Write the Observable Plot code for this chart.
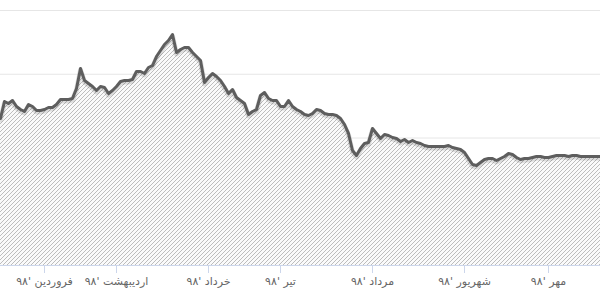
<!DOCTYPE html>
<html>
<head>
<meta charset="utf-8">
<script src="https://cdn.jsdelivr.net/npm/d3@7"></script>
<script src="https://cdn.jsdelivr.net/npm/@observablehq/plot@0.6"></script>
<style>
  html, body { margin: 0; padding: 0; background: #fff; }
  #chart svg { display: block; }
</style>
</head>
<body>
<div id="chart"></div>
<script>
// Daily closing values (trading-day index = position in array)
const values = [
  2306, 2573, 2541, 2588, 2494, 2447, 2416, 2525, 2494, 2431,
  2431, 2447, 2478, 2478, 2525, 2604, 2604, 2604, 2620, 2776,
  3090, 2902, 2855, 2808, 2745, 2808, 2792, 2698, 2745, 2808,
  2886, 2902, 2902, 2918, 3043, 3043, 3012, 3106, 3137, 3278,
  3372, 3467, 3529, 3623, 3341, 3388, 3420, 3420, 3341, 3278,
  3216, 2871, 2949, 3012, 2965, 2902, 2808, 2698, 2761, 2635,
  2588, 2541, 2369, 2416, 2447, 2667, 2714, 2620, 2588, 2588,
  2494, 2494, 2588, 2494, 2447, 2416, 2369, 2353, 2384, 2447,
  2431, 2384, 2369, 2369, 2353, 2306, 2212, 2071, 1804, 1725,
  1835, 1914, 1929, 2149, 2071, 1992, 2055, 2039, 2008, 1992,
  1945, 1976, 1929, 1961, 1929, 1914, 1882, 1867, 1867, 1867,
  1867, 1867, 1882, 1851, 1835, 1820, 1773, 1678, 1584, 1569,
  1616, 1663, 1678, 1678, 1647, 1678, 1710, 1757, 1741, 1694,
  1663, 1678, 1678, 1694, 1710, 1710, 1694, 1694, 1710, 1725,
  1725, 1725, 1710, 1725, 1725, 1710, 1710, 1710, 1710, 1710,
  1710
];
const tickDays = [11, 29, 52, 70, 93, 116, 137];
const tickLabels = ["فروردین '۹۸", "اردیبهشت '۹۸", "خرداد '۹۸", "تیر '۹۸", "مرداد '۹۸", "شهریور '۹۸", "مهر '۹۸"];
const gridValues = [1000, 2000, 3000, 4000];

const data = values.map((v, i) => ({day: i, value: v}));
const labelOf = new Map(tickDays.map((d, i) => [d, tickLabels[i]]));

const chart = Plot.plot({
  width: 600,
  height: 307,
  marginLeft: 0,
  marginRight: 0,
  marginTop: 10,
  marginBottom: 42,
  style: {fontFamily: "'DejaVu Sans', sans-serif", background: "#fff"},
  x: {domain: [0, 150], axis: null, label: null},
  y: {domain: [0, 4000], axis: null, label: null},
  marks: [
    Plot.ruleY(gridValues, {stroke: "#e6e6e6", strokeWidth: 1}),
    Plot.areaY(data, {x: "day", y: "value", fill: "url(#hatch)"}),
    Plot.line(data, {x: "day", y: "value", stroke: "#000", strokeOpacity: 0.12, strokeWidth: 5, dy: 1.5, curve: "linear"}),
    Plot.line(data, {x: "day", y: "value", stroke: "#5e5e5e", strokeWidth: 3, curve: "linear"}),
    Plot.ruleY([0], {stroke: "#ccd6eb", strokeWidth: 1}),
    Plot.axisX(tickDays, {
      ticks: tickDays,
      tickSize: 8,
      tickPadding: 4,
      stroke: "#ccd6eb",
      color: "#666",
      fontSize: 11,
      label: null,
      tickFormat: d => labelOf.get(d)
    })
  ]
});

const svg = d3.select(chart);
const defs = svg.insert("defs", ":first-child");
const pat = defs.append("pattern")
  .attr("id", "hatch")
  .attr("patternUnits", "userSpaceOnUse")
  .attr("width", 4)
  .attr("height", 4);
pat.append("rect").attr("width", 4).attr("height", 4).attr("fill", "#fafafa");
pat.append("path")
  .attr("d", "M-1,1 l2,-2 M0,4 l4,-4 M3,5 l2,-2")
  .attr("stroke", "#bdbdbd")
  .attr("stroke-width", 1);
svg.selectAll("g[aria-label='x-axis tick label'] text").attr("fill", "#666");

document.getElementById("chart").appendChild(chart);
</script>
</body>
</html>
